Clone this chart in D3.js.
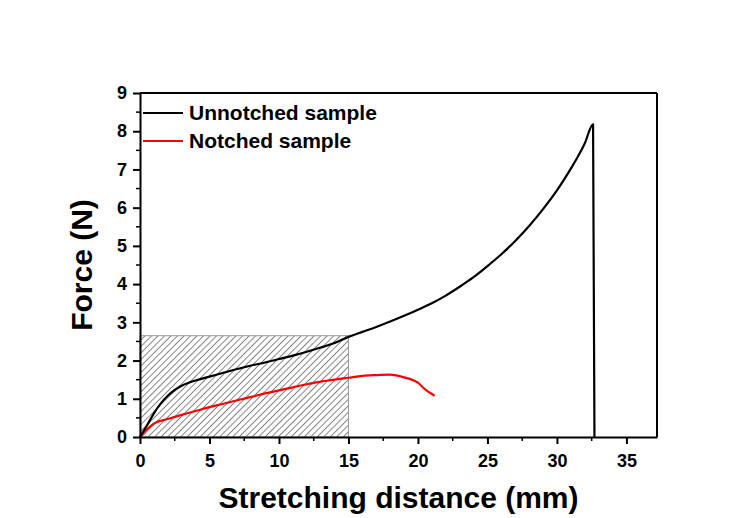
<!DOCTYPE html>
<html>
<head>
<meta charset="utf-8">
<script src="https://cdn.jsdelivr.net/npm/d3@7"></script>
<style>
  body { margin: 0; background: #fff; }
  text { font-family: "Liberation Sans", Arial, sans-serif; font-weight: bold; }
</style>
</head>
<body>
<div id="chart"></div>
<script>
// unnotched sample: stretching distance (mm) vs force (N)
var unnotchedX = [0, 0.5, 1, 1.5, 2, 2.5, 3, 4, 5, 6, 7, 8, 9, 10, 11, 12, 13, 14, 15, 16, 17, 18, 19, 20, 21, 22, 23, 24, 25, 26, 27, 28, 29, 30, 31, 31.5, 32, 32.6, 32.7];
var unnotchedY = [0, 0.3, 0.62, 0.88, 1.08, 1.23, 1.34, 1.48, 1.58, 1.68, 1.78, 1.87, 1.95, 2.04, 2.13, 2.23, 2.34, 2.46, 2.62, 2.75, 2.88, 3.02, 3.17, 3.33, 3.5, 3.7, 3.93, 4.18, 4.47, 4.78, 5.13, 5.52, 5.96, 6.45, 7.02, 7.33, 7.68, 8.18, 0];
// notched sample
var notchedX = [0, 0.5, 1, 2, 3, 4, 5, 6, 7, 8, 9, 10, 11, 12, 13, 14, 15, 16, 17, 18, 19, 20, 20.5, 21.2];
var notchedY = [0, 0.2, 0.35, 0.47, 0.58, 0.68, 0.78, 0.87, 0.96, 1.05, 1.14, 1.22, 1.3, 1.38, 1.45, 1.5, 1.55, 1.6, 1.62, 1.63, 1.56, 1.42, 1.25, 1.08];
var xTicks = [0, 5, 10, 15, 20, 25, 30, 35];
var yTicks = [0, 1, 2, 3, 4, 5, 6, 7, 8, 9];
// hatched energy region
var hatchX = [0, 15];
var hatchY = [0, 2.65];

var width = 749, height = 518;
var margin = {top: 93, right: 92, bottom: 81, left: 140};

var svg = d3.select("#chart").append("svg")
  .attr("width", width)
  .attr("height", height);

var w = width - margin.left - margin.right,
    h = height - margin.top - margin.bottom;

var g = svg.append("g").attr("transform", "translate(" + margin.left + "," + margin.top + ")");

var x = d3.scaleLinear().domain([0, 37.2]).range([0, w]);
var y = d3.scaleLinear().domain([0, 9]).range([h, 0]);

// hatch pattern
var defs = svg.append("defs");
var pat = defs.append("pattern")
  .attr("id", "hatch")
  .attr("patternUnits", "userSpaceOnUse")
  .attr("width", 4.6).attr("height", 4.6)
  .attr("patternTransform", "rotate(45)");
pat.append("line")
  .attr("x1", 0).attr("y1", 0).attr("x2", 0).attr("y2", 4.6)
  .attr("stroke", "#111").attr("stroke-width", 1);

g.append("rect")
  .attr("x", x(hatchX[0]))
  .attr("y", y(hatchY[1]))
  .attr("width", x(hatchX[1]) - x(hatchX[0]))
  .attr("height", y(hatchY[0]) - y(hatchY[1]))
  .attr("fill", "url(#hatch)")
  .attr("stroke", "#999")
  .attr("stroke-width", 1);

var line = d3.line()
  .x(function(d) { return x(d[0]); })
  .y(function(d) { return y(d[1]); })
  .curve(d3.curveMonotoneX);

var unnotched = unnotchedX.map(function(v, i) { return [v, unnotchedY[i]]; });
var notched = notchedX.map(function(v, i) { return [v, notchedY[i]]; });

g.append("path")
  .datum(notched)
  .attr("d", line)
  .attr("fill", "none")
  .attr("stroke", "#ff0000")
  .attr("stroke-width", 2.2);

g.append("path")
  .datum(unnotched)
  .attr("d", line)
  .attr("fill", "none")
  .attr("stroke", "#000")
  .attr("stroke-width", 2.2)
  .attr("stroke-linejoin", "round");

// minor ticks
var xMinor = d3.range(2.5, 37.2, 5);
var yMinor = d3.range(0.5, 9, 1);
g.selectAll(".xminor").data(xMinor).enter().append("line")
  .attr("x1", function(d) { return x(d); }).attr("x2", function(d) { return x(d); })
  .attr("y1", h).attr("y2", h + 4)
  .attr("stroke", "#000").attr("stroke-width", 1.5);
g.selectAll(".yminor").data(yMinor).enter().append("line")
  .attr("y1", function(d) { return y(d); }).attr("y2", function(d) { return y(d); })
  .attr("x1", 0).attr("x2", -4)
  .attr("stroke", "#000").attr("stroke-width", 1.5);

// axes
var xAxis = g.append("g")
  .attr("transform", "translate(0," + h + ")")
  .call(d3.axisBottom(x).tickValues(xTicks).tickSize(7).tickSizeOuter(0).tickPadding(10));
var yAxis = g.append("g")
  .call(d3.axisLeft(y).tickValues(yTicks).tickSize(7).tickSizeOuter(0).tickPadding(6));

[xAxis, yAxis].forEach(function(a) {
  a.select(".domain").attr("stroke-width", 2);
  a.selectAll(".tick line").attr("stroke-width", 2);
  a.selectAll(".tick text").style("font-size", "18px").attr("fill", "#000");
});

// frame top and right
g.append("line").attr("x1", 0).attr("x2", w).attr("y1", 0).attr("y2", 0)
  .attr("stroke", "#000").attr("stroke-width", 2);
g.append("line").attr("x1", w).attr("x2", w).attr("y1", 0).attr("y2", h)
  .attr("stroke", "#000").attr("stroke-width", 2);

// axis titles
svg.append("text")
  .attr("x", margin.left + w / 2)
  .attr("y", 508)
  .attr("text-anchor", "middle")
  .style("font-size", "30px")
  .text("Stretching distance (mm)");
svg.append("text")
  .attr("transform", "translate(92," + (margin.top + h / 2) + ") rotate(-90)")
  .attr("text-anchor", "middle")
  .style("font-size", "30px")
  .text("Force (N)");

// legend
var legend = [{name: "Unnotched sample", color: "#000", y: 113}, {name: "Notched sample", color: "#ff0000", y: 141}];
legend.forEach(function(d) {
  svg.append("line")
    .attr("x1", 143).attr("x2", 183)
    .attr("y1", d.y).attr("y2", d.y)
    .attr("stroke", d.color).attr("stroke-width", 2.2);
  svg.append("text")
    .attr("x", 189).attr("y", d.y + 6.5)
    .style("font-size", "21px")
    .text(d.name);
});
</script>
</body>
</html>
